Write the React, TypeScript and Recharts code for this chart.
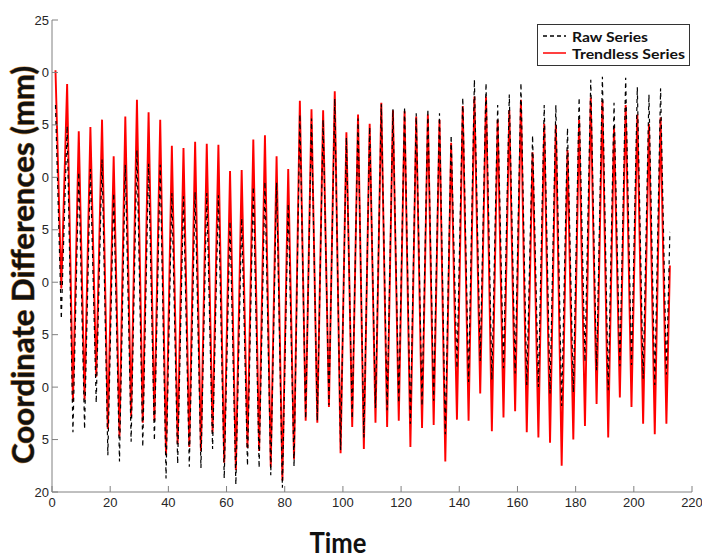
import React from 'react';
import { LineChart, Line, XAxis, YAxis } from 'recharts';

// peaks and troughs of each cycle (mm)
const rawPeaks = [
  16.9, 14.9, 10.5, 10.8, 11.7, 8.5, 11.2, 12.6, 11.3, 11.2,
  8.5, 8.2, 8.6, 8.5, 8.3, 5.8, 6.1, 9.1, 9.6, 9.5,
  7.5, 16.0, 15.6, 15.5, 17.5, 13.8, 15.6, 14.8, 17.0, 16.5,
  16.7, 16.1, 16.5, 16.1, 14.0, 17.6, 19.3, 19.0, 16.9, 17.9,
  19.0, 14.0, 16.9, 16.9, 14.7, 17.6, 19.3, 19.6, 17.1, 19.5,
  18.6, 17.9, 18.5,
];
const rawTroughs = [
  -3.5, -14.3, -14.0, -11.5, -16.5, -17.1, -15.2, -15.7, -15.1, -18.7,
  -17.3, -17.6, -17.7, -15.9, -18.7, -19.3, -17.5, -17.7, -18.4, -19.6,
  -17.6, -13.0, -13.2, -11.7, -16.0, -13.0, -14.8, -12.0, -12.2, -11.5,
  -13.5, -11.8, -11.3, -14.5, -8.2, -9.5, -7.5, -9.3, -8.2, -8.7,
  -9.8, -10.0, -10.6, -11.8, -10.5, -7.6, -8.4, -10.3, -8.0, -7.9,
  -9.2, -9.8, -8.8,
];
const trendlessPeaks = [
  20.2, 18.9, 14.4, 14.8, 15.5, 12.0, 15.8, 17.4, 16.2, 15.5,
  13.0, 12.8, 13.4, 13.2, 13.1, 10.6, 10.7, 13.6, 14.0, 12.0,
  10.8, 17.3, 16.5, 16.4, 18.2, 14.3, 16.0, 15.1, 17.1, 16.4,
  16.3, 15.8, 16.0, 15.5, 13.3, 16.8, 17.7, 17.7, 15.5, 16.4,
  17.4, 12.4, 15.1, 15.0, 12.6, 15.5, 17.6, 17.3, 14.8, 16.9,
  16.0, 15.1, 15.7,
];
const trendlessTroughs = [
  -0.6, -11.4, -11.2, -9.0, -14.0, -14.7, -12.8, -13.4, -13.2, -16.5,
  -15.4, -15.7, -16.1, -14.3, -17.2, -17.9, -15.8, -16.1, -17.6, -18.9,
  -16.9, -13.2, -13.4, -11.9, -16.3, -13.8, -15.9, -13.4, -13.8, -13.2,
  -15.7, -13.9, -13.6, -17.1, -13.1, -13.2, -10.6, -14.2, -12.9, -12.3,
  -14.3, -14.8, -15.3, -17.5, -15.0, -13.7, -11.6, -14.8, -11.0, -11.9,
  -13.5, -14.5, -13.5,
];
// last sample at the right end
const lastPoint = { t: 212.4, raw: 4.8, trendless: 1.6 };

const xTicks = [0, 20, 40, 60, 80, 100, 120, 140, 160, 180, 200, 220];
const yTicks = [25, 20, 15, 10, 5, 0, -5, -10, -15, -20];
const yTickLabels = ['25', '0', '5', '0', '5', '0', '5', '0', '5', '20'];

// cycles are ~4 time units long: peak, then trough two units later
const data: { t: number; raw: number; trendless: number }[] = [];
rawPeaks.forEach((_, i) => {
  data.push({ t: 1.2 + 4 * i, raw: rawPeaks[i], trendless: trendlessPeaks[i] });
  data.push({ t: 3.2 + 4 * i, raw: rawTroughs[i], trendless: trendlessTroughs[i] });
});
data.push(lastPoint);

const W = 702;
const H = 558;
const LEFT = 52;
const RIGHT = 692;
const TOP = 20;
const BOTTOM = 492;
const AXIS = '#808080';
const TICK_FONT = { fontFamily: 'Liberation Sans, Arial, sans-serif', fontSize: 13, fill: '#262626' };

const LeftTick = (props: any) => {
  const { x, y, payload } = props;
  const idx = yTicks.indexOf(payload.value);
  return (
    <g>
      <line x1={LEFT} x2={LEFT + 6} y1={y} y2={y} stroke={AXIS} />
      <text x={x} y={y} dy="0.35em" textAnchor="end" {...TICK_FONT}>
        {idx >= 0 ? yTickLabels[idx] : payload.value}
      </text>
    </g>
  );
};

const RightTick = (props: any) => (
  <line x1={RIGHT - 6} x2={RIGHT} y1={props.y} y2={props.y} stroke={AXIS} />
);

const BottomTick = (props: any) => {
  const { x, y, payload } = props;
  return (
    <g>
      <line x1={x} x2={x} y1={BOTTOM - 6} y2={BOTTOM} stroke={AXIS} />
      <text x={x} y={y} dy="0.71em" textAnchor="middle" {...TICK_FONT}>
        {payload.value}
      </text>
    </g>
  );
};

const TopTick = (props: any) => (
  <line x1={props.x} x2={props.x} y1={TOP} y2={TOP + 6} stroke={AXIS} />
);

export default function App() {
  return (
    <div style={{ position: 'absolute', left: 0, top: 0, width: W, height: H, background: '#fff' }}>
      <LineChart
        width={W}
        height={H}
        data={data}
        margin={{ top: TOP, right: W - RIGHT, bottom: 36, left: 12 }}
      >
        <XAxis
          dataKey="t"
          type="number"
          domain={[0, 220]}
          ticks={xTicks}
          height={30}
          stroke={AXIS}
          tickLine={false}
          tickSize={0}
          tickMargin={6}
          tick={BottomTick}
          interval={0}
        />
        <XAxis
          xAxisId="top"
          orientation="top"
          dataKey="t"
          type="number"
          domain={[0, 220]}
          ticks={xTicks}
          height={0}
          stroke={AXIS}
          tickLine={false}
          tick={TopTick}
          interval={0}
        />
        <YAxis
          type="number"
          domain={[-20, 25]}
          ticks={yTicks}
          width={40}
          stroke={AXIS}
          tickLine={false}
          tickSize={0}
          tickMargin={3}
          tick={LeftTick}
          interval={0}
        />
        <YAxis
          yAxisId="right"
          orientation="right"
          type="number"
          domain={[-20, 25]}
          ticks={yTicks}
          width={0}
          stroke={AXIS}
          tickLine={false}
          tick={RightTick}
          interval={0}
        />
        <Line
          dataKey="trendless"
          type="linear"
          stroke="#ff0000"
          strokeWidth={1.9}
          dot={false}
          isAnimationActive={false}
        />
        <Line
          dataKey="raw"
          type="linear"
          stroke="#000000"
          strokeWidth={1.2}
          strokeDasharray="4 4"
          dot={false}
          isAnimationActive={false}
        />
      </LineChart>
      <svg
        width={W}
        height={H}
        style={{ position: 'absolute', left: 0, top: 0, pointerEvents: 'none' }}
      >
        <text
          x={34}
          y={265}
          transform="rotate(-90, 34, 265)"
          textAnchor="middle"
          textLength={398}
          lengthAdjust="spacingAndGlyphs"
          fontFamily="Lato, 'Open Sans', sans-serif"
          fontWeight={700}
          fontSize={30}
          fill="#111"
          stroke="#c98a3e"
          strokeWidth={1}
          paintOrder="stroke"
        >
          Coordinate Differences (mm)
        </text>
        <text
          x={338}
          y={553}
          textAnchor="middle"
          textLength={57}
          lengthAdjust="spacingAndGlyphs"
          fontFamily="Lato, 'Open Sans', sans-serif"
          fontWeight={700}
          fontSize={28}
          fill="#111"
        >
          Time
        </text>
        <g>
          <rect x={537.5} y={24.5} width={152} height={41} fill="#fff" stroke="#333" strokeWidth={1} />
          <line x1={543} x2={566} y1={36} y2={36} stroke="#000" strokeWidth={1.3} strokeDasharray="4 3" />
          <text
            x={572}
            y={42}
            textLength={76}
            lengthAdjust="spacingAndGlyphs"
            fontFamily="Lato, 'Open Sans', sans-serif"
            fontWeight={700}
            fontSize={14}
            fill="#111"
          >
            Raw Series
          </text>
          <line x1={543} x2={566} y1={53} y2={53} stroke="#ff0000" strokeWidth={1.5} />
          <text
            x={572}
            y={59}
            textLength={113}
            lengthAdjust="spacingAndGlyphs"
            fontFamily="Lato, 'Open Sans', sans-serif"
            fontWeight={700}
            fontSize={14}
            fill="#111"
          >
            Trendless Series
          </text>
        </g>
      </svg>
    </div>
  );
}
